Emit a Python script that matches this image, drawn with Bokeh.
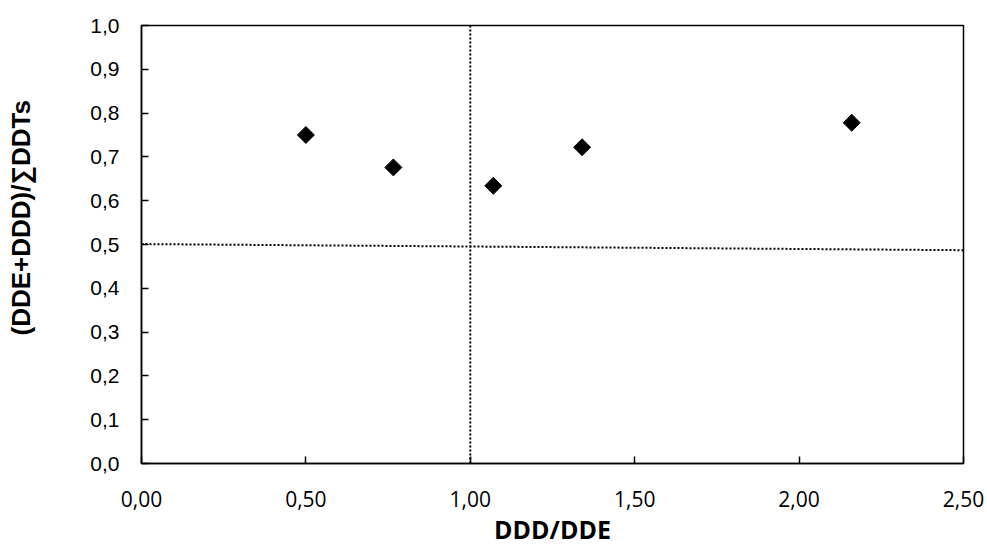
from bokeh.plotting import figure
from bokeh.models import Range1d, FixedTicker, ColumnDataSource, Title
from bokeh.embed import file_html
from bokeh.resources import INLINE
import numpy as np

# Data
ddd_dde = [0.50, 0.766, 1.07, 1.34, 2.16]
ratio = [0.750, 0.676, 0.634, 0.722, 0.778]

h_ref_x = [0.0, 2.5]
h_ref_y = [0.501, 0.487]
v_ref_x = [1.0, 1.0]
v_ref_y = [0.0, 1.0]

x_ticks = [0.0, 0.5, 1.0, 1.5, 2.0, 2.5]
x_tick_labels = ["0,00", "0,50", "1,00", "1,50", "2,00", "2,50"]
y_ticks = [0.0, 0.1, 0.2, 0.3, 0.4, 0.5, 0.6, 0.7, 0.8, 0.9, 1.0]
y_tick_labels = ["0,0", "0,1", "0,2", "0,3", "0,4", "0,5", "0,6", "0,7", "0,8", "0,9", "1,0"]

x_title = "DDD/DDE"
y_title = "(DDE+DDD)/∑DDTs"

W, H = 985, 548
p = figure(width=W, height=H, output_backend="svg", toolbar_location=None,
           x_range=Range1d(0, 2.5), y_range=Range1d(0, 1.0),
           min_border_left=141, min_border_right=22, min_border_top=25, min_border_bottom=84)
p.xgrid.visible = False
p.ygrid.visible = False
p.outline_line_color = "black"
p.outline_line_width = 1.5
p.background_fill_color = "white"
p.border_fill_color = "white"

p.line(h_ref_x, h_ref_y, line_color="black", line_width=2, line_dash="2 2")
p.line(v_ref_x, v_ref_y, line_color="black", line_width=2, line_dash="2 2")

src = ColumnDataSource(dict(x=ddd_dde, y=ratio))
p.scatter("x", "y", source=src, marker="square", angle=np.pi / 4, size=12,
          fill_color="black", line_color="black", line_width=1)

for ax in (p.xaxis[0], p.yaxis[0]):
    ax.axis_line_color = "black"
    ax.axis_line_width = 1.5
    ax.major_tick_line_color = "black"
    ax.major_tick_line_width = 1.5
    ax.major_tick_in = 7
    ax.major_tick_out = 0
    ax.minor_tick_line_color = None
    ax.major_label_text_color = "black"
    ax.axis_label_text_color = "black"

p.xaxis.ticker = FixedTicker(ticks=x_ticks)
p.xaxis.major_label_overrides = {t: l for t, l in zip(x_ticks, x_tick_labels)}
p.yaxis.ticker = FixedTicker(ticks=y_ticks)
p.yaxis.major_label_overrides = {t: l for t, l in zip(y_ticks, y_tick_labels)}

p.xaxis.major_label_text_font = "Open Sans"
p.xaxis.major_label_text_font_size = "21px"
p.xaxis.major_label_standoff = 27
p.xaxis.axis_label = x_title
p.xaxis.axis_label_text_font = "Open Sans"
p.xaxis.axis_label_text_font_style = "bold"
p.xaxis.axis_label_text_font_size = "25px"
p.xaxis.axis_label_standoff = 2

p.yaxis.major_label_text_font = "Liberation Sans"
p.yaxis.major_label_text_font_size = "21px"
p.yaxis.major_label_standoff = 22
# blank spacer label: widens the y-axis panel so the title sits near the page edge
p.yaxis.axis_label = " "
p.yaxis.axis_label_text_font_size = "14px"
p.yaxis.axis_label_standoff = 30

# y-axis title as a left-side title, shifted upward like the reference
ytitle = Title(text=y_title, align="left", offset=128, standoff=6,
               text_font="Liberation Sans", text_font_style="bold",
               text_font_size="26px", text_color="black")
p.add_layout(ytitle, "left")

open("out.html", "w").write(file_html(p, INLINE))
